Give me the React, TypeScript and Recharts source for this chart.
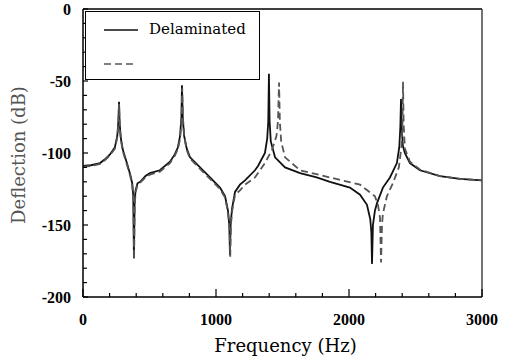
import { Legend, Line, LineChart, ReferenceLine, XAxis, YAxis } from "recharts";

// frequency (Hz) / deflection (dB)
const delamFreq = [
  0, 60, 128, 170, 203, 240, 258, 266, 271, 276, 285, 300, 330, 355, 370, 378, 383, 388, 395, 410,
  430, 470, 503, 578, 654, 690, 714, 730, 740, 744, 750, 760, 780, 805, 880, 955, 1030, 1068, 1090,
  1100, 1105, 1110, 1120, 1143, 1180, 1218, 1293, 1316, 1368, 1385, 1393, 1398, 1403, 1412, 1444,
  1519, 1632, 1757, 1857, 2007, 2083, 2135, 2160, 2168, 2173, 2180, 2195, 2210, 2255, 2308, 2360,
  2378, 2386, 2391, 2396, 2405, 2420, 2458, 2533, 2684, 2834, 3000,
];
const delamDb = [
  -109, -108.5, -107, -104, -101, -96, -88, -78, -64.5, -80, -90, -98, -107, -115, -121, -130, -173,
  -135, -126, -121, -120, -116, -114, -112, -106, -101, -96, -88, -75, -53, -75, -88, -97, -103, -110,
  -117, -124, -130, -140, -150, -171, -150, -139, -127, -122, -119, -112, -109, -100, -90, -78, -45,
  -78, -92, -103, -110, -114, -117, -120, -124, -129, -136, -146, -155, -177, -150, -140, -135, -124,
  -117, -107, -96, -82, -62.5, -82, -95, -100, -107, -112, -116, -118, -119,
];

const intactFreq = [
  0, 60, 128, 170, 203, 240, 258, 266, 271, 276, 285, 300, 330, 355, 370, 378, 384, 389, 396, 410,
  430, 470, 503, 578, 654, 690, 714, 730, 740, 746, 752, 762, 780, 805, 880, 955, 1030, 1068, 1090,
  1102, 1107, 1112, 1122, 1143, 1180, 1218, 1293, 1368, 1420, 1455, 1466, 1474, 1480, 1490, 1519,
  1632, 1857, 2083, 2195, 2218, 2233, 2241, 2248, 2255, 2285, 2330, 2375, 2395, 2402, 2406, 2411,
  2420, 2458, 2533, 2684, 2834, 3000,
];
const intactDb = [
  -109.5, -109, -107.5, -104.5, -101.5, -97, -89, -80, -66, -82, -91, -99, -108, -116, -122, -131,
  -174, -136, -127, -122, -120.5, -117, -115, -113, -107, -102, -97, -90, -78, -55, -77, -89, -98,
  -104, -111, -118, -125, -131, -141, -152, -172, -150, -140, -129, -126, -122, -117, -107, -98, -88,
  -78, -51, -78, -92, -103, -112, -117, -122, -130, -136, -145, -176, -150, -142, -130, -121, -110,
  -95, -80, -50.5, -80, -97, -106, -111.5, -116, -118, -119,
];

const xTicks = [0, 200, 400, 600, 800, 1000, 1200, 1400, 1600, 1800, 2000, 2200, 2400, 2600, 2800, 3000];
const yTicks = [
  -200, -190, -180, -170, -160, -150, -140, -130, -120, -110, -100, -90, -80, -70, -60, -50, -40, -30,
  -20, -10, 0,
];

const delamData = delamFreq.map((f, i) => ({ f, db: delamDb[i] }));
const intactData = intactFreq.map((f, i) => ({ f, db: intactDb[i] }));

const SERIF = "'Liberation Serif', 'Times New Roman', serif";
const WIDE_SERIF = "'DejaVu Serif', 'Liberation Serif', serif";

function XTick(props: any) {
  const { x, y, payload } = props;
  const major = payload.value % 1000 === 0;
  return (
    <g>
      <line x1={x} x2={x} y1={y} y2={y - (major ? 8 : 4)} stroke="#000" strokeWidth={1.2} />
      {major && (
        <text
          x={x}
          y={y + 28}
          textAnchor="middle"
          fill="#000"
          fontFamily={SERIF}
          fontWeight={700}
          fontSize={16}
        >
          {payload.value}
        </text>
      )}
    </g>
  );
}

function YTick(props: any) {
  const { x, y, payload } = props;
  const major = payload.value % 50 === 0;
  return (
    <g>
      <line x1={x} x2={x + (major ? 5 : 4)} y1={y} y2={y} stroke="#000" strokeWidth={1.2} />
      {major && (
        <text
          x={x - 12}
          y={y + 5.5}
          textAnchor="end"
          fill="#000"
          fontFamily={SERIF}
          fontWeight={700}
          fontSize={16}
        >
          {payload.value}
        </text>
      )}
    </g>
  );
}

function LegendBox({ payload }: any) {
  // named series first, as in the original key
  const items = [...(payload || [])].sort((a: any, b: any) => (a.value ? 0 : 1) - (b.value ? 0 : 1));
  return (
    <div
      style={{
        position: "relative",
        width: 175,
        height: 69,
        border: "1.5px solid #000",
        boxSizing: "border-box",
        background: "#fff",
      }}
    >
      {items.map((entry: any, i: number) => {
        const top = i === 0 ? 18 : 52;
        const dash = entry.payload?.strokeDasharray;
        return (
          <div key={i}>
            <svg width={40} height={6} style={{ position: "absolute", left: 16, top: top - 3 }}>
              <line
                x1={2}
                x2={dash ? 32 : 36}
                y1={3}
                y2={3}
                stroke={entry.color}
                strokeWidth={1.6}
                strokeDasharray={dash}
              />
            </svg>
            <span
              style={{
                position: "absolute",
                left: 63,
                top: top - 12,
                lineHeight: "22px",
                color: "#000",
                whiteSpace: "nowrap",
                fontFamily: WIDE_SERIF,
                fontSize: 15,
              }}
            >
              {entry.value}
            </span>
          </div>
        );
      })}
    </div>
  );
}

export default function App() {
  return (
    <div style={{ position: "absolute", left: 0, top: 0, width: 506, height: 360, background: "#fff" }}>
      <LineChart width={506} height={360} margin={{ top: 9, right: 24, left: 8, bottom: 8 }}>
        <XAxis
          dataKey="f"
          type="number"
          domain={[0, 3000]}
          ticks={xTicks}
          interval={0}
          height={55}
          tickSize={0}
          tickMargin={0}
          tickLine={false}
          axisLine={{ stroke: "#000", strokeWidth: 1.5 }}
          tick={(p: any) => <XTick {...p} />}
          label={{
            content: ({ viewBox }: any) => (
              <text
                x={viewBox.x + viewBox.width / 2 + 3}
                y={352}
                textAnchor="middle"
                fill="#000"
                fontFamily={WIDE_SERIF}
                fontSize={18}
              >
                Frequency (Hz)
              </text>
            ),
          }}
        />
        <YAxis
          dataKey="db"
          type="number"
          domain={[-200, 0]}
          ticks={yTicks}
          interval={0}
          width={75}
          tickSize={0}
          tickMargin={0}
          tickLine={false}
          axisLine={{ stroke: "#000", strokeWidth: 1.5 }}
          tick={(p: any) => <YTick {...p} />}
          label={{
            content: ({ viewBox }: any) => {
              const cx = 18;
              const cy = viewBox.y + viewBox.height / 2 + 2;
              return (
                <text
                  x={cx}
                  y={cy}
                  textAnchor="middle"
                  dominantBaseline="central"
                  transform={`rotate(-90, ${cx}, ${cy})`}
                  fill="#555"
                  fontFamily={WIDE_SERIF}
                  fontSize={18}
                >
                  Deflection (dB)
                </text>
              );
            },
          }}
        />
        <ReferenceLine y={0} stroke="#000" strokeWidth={1.5} />
        <ReferenceLine x={3000} stroke="#444" strokeWidth={1.5} />
        <Legend
          layout="vertical"
          verticalAlign="middle"
          align="center"
          content={(p: any) => <LegendBox {...p} />}
          wrapperStyle={{ top: 11, left: 85, width: 175, height: 69 }}
        />
        <Line
          name="Delaminated"
          data={delamData}
          dataKey="db"
          type="linear"
          stroke="#111"
          strokeWidth={1.8}
          dot={false}
          isAnimationActive={false}
        />
        <Line
          name=""
          data={intactData}
          dataKey="db"
          type="linear"
          stroke="#555"
          strokeWidth={1.8}
          strokeDasharray="7 4"
          dot={false}
          isAnimationActive={false}
        />
      </LineChart>
    </div>
  );
}
